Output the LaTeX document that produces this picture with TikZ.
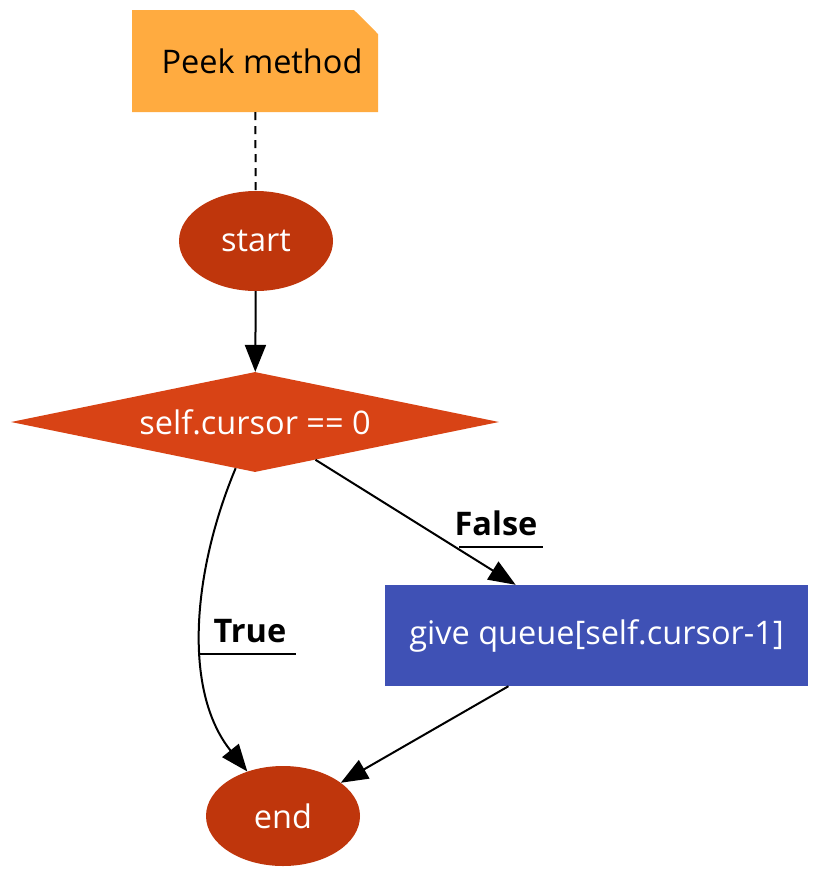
\documentclass[tikz,border=0pt]{standalone}
\usepackage{fontspec}
\setmainfont{Open Sans}
\usetikzlibrary{arrows.meta,shapes.geometric,shapes.misc}
\definecolor{notecol}{HTML}{FFAB40}
\definecolor{termcol}{HTML}{BF360C}
\definecolor{deccol}{HTML}{D84315}
\definecolor{stepcol}{HTML}{3F51B5}

\begin{document}
\begin{tikzpicture}[
  x=1pt, y=-1pt,
  font=\fontsize{32.5}{38}\selectfont,
  notebox/.style={chamfered rectangle, chamfered rectangle corners=north east,
                  chamfered rectangle xsep=12pt, chamfered rectangle ysep=12pt,
                  fill=notecol, inner sep=0pt, minimum width=246pt, minimum height=102pt},
  term/.style={ellipse, fill=termcol, text=white, inner sep=0pt,
               minimum width=154pt, minimum height=100pt},
  decision/.style={diamond, aspect=4.88, fill=deccol, text=white, inner sep=0pt,
                   minimum width=488pt, minimum height=100pt},
  stepbox/.style={rectangle, fill=stepcol, text=white, inner sep=0pt,
                  minimum width=423pt, minimum height=101pt},
  lbl/.style={font=\fontsize{32.5}{38}\selectfont\bfseries, inner sep=1pt},
  uline/.style={line width=2pt},
  every edge/.style={draw, line width=2pt, -{Triangle[length=27pt,width=21pt]}}
]
\useasboundingbox (0,0) rectangle (833,892);
\node[notebox] (note) at (255,61) {\hspace*{14pt}Peek method};
\node[term] (start) at (256,241) {start};
\node[decision] (cond) at (255,422) {self.cursor == 0};
\node[stepbox] (give) at (596.5,635.5) {give queue[self.cursor-1]};
\node[term] (end) at (283,816) {end};
\draw[line width=2pt, dash pattern=on 8pt off 6pt] (note) -- (start);
\path (start) edge (cond)
      (cond) edge (give)
      (cond) edge[to path={.. controls (193,570) and (182,690) .. (\tikztotarget)}] (end)
      (give) edge (end);
\node[lbl] (ltrue) at (250,631) {True};
\node[lbl] (lfalse) at (496,523) {False};
\draw[uline] (200,654) -- (296,654);
\draw[uline] (459,547) -- (543,547);
\end{tikzpicture}
\end{document}
